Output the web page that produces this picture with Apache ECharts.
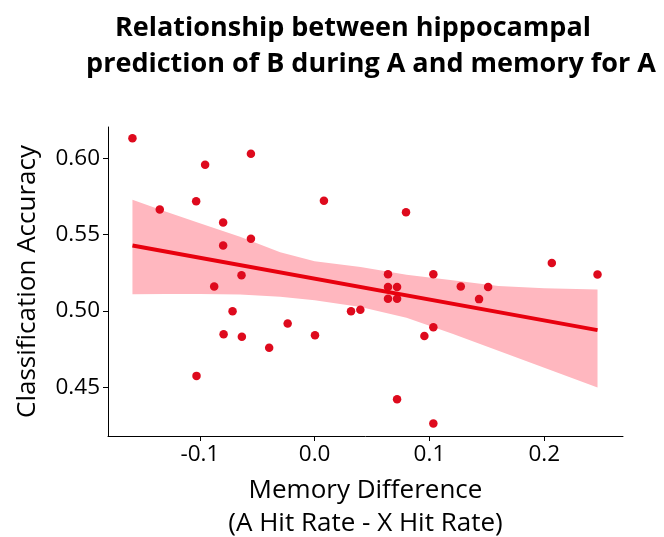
<!DOCTYPE html>
<html>
<head>
<meta charset="utf-8">
<script src="https://cdn.jsdelivr.net/npm/echarts@6/dist/echarts.min.js"></script>
<style>html,body{margin:0;padding:0;background:#fff;}#c{width:664px;height:537px;}</style>
</head>
<body>
<div id="c"></div>
<script>
const memDiff = [-0.1587,-0.0555,-0.0954,-0.1349,-0.1032,0.0081,-0.0797,-0.0555,-0.0797,-0.0637,-0.0875,-0.0715,0.0317,0.0398,0.0796,0.0639,0.1034,0.0639,0.0718,0.0639,0.0718,0.1273,0.1511,0.1432,0.2066,0.2464,-0.1029,-0.0793,-0.0634,-0.0396,-0.0235,0.0003,0.1034,0.0956,0.0718,0.1034];
const accuracy = [0.6132,0.6029,0.5957,0.5664,0.5719,0.5721,0.5579,0.5472,0.5429,0.5234,0.5160,0.4998,0.4998,0.5007,0.5647,0.5240,0.5240,0.5157,0.5157,0.5079,0.5079,0.5160,0.5157,0.5077,0.5313,0.5239,0.4574,0.4847,0.4830,0.4758,0.4917,0.4841,0.4893,0.4836,0.4421,0.4262];
const fitX = [-0.1587, 0.2464];
const fitY = [0.5428, 0.4874];
const bandX = [-0.1587,-0.13,-0.1,-0.065,-0.03,0.0,0.04,0.08,0.12,0.16,0.2,0.2464];
const bandUpper = [0.5728,0.5652,0.5575,0.5485,0.5385,0.5325,0.5288,0.5237,0.5200,0.5163,0.5148,0.5140];
const bandLower = [0.5109,0.5110,0.5110,0.5108,0.5092,0.5070,0.5025,0.4955,0.4850,0.4738,0.4628,0.4498];
const xTicks = [-0.1, 0.0, 0.1, 0.2];
const yTicks = [0.45, 0.50, 0.55, 0.60];
const titleLine1 = 'Relationship between hippocampal';
const titleLine2 = 'prediction of B during A and memory for A';
const xName = 'Memory Difference\n(A Hit Rate - X Hit Rate)';
const yName = 'Classification Accuracy';

const FONT = 'Open Sans';
const chart = echarts.init(document.getElementById('c'), null, {renderer: 'canvas'});
const scatterData = memDiff.map((x, i) => [x, accuracy[i]]);
const lineData = fitX.map((x, i) => [x, fitY[i]]);

chart.setOption({
  backgroundColor: '#ffffff',
  animation: false,
  title: [
    {text: titleLine1, left: 348, top: 10, textAlign: 'center',
     textStyle: {fontFamily: FONT, fontWeight: 'bold', fontSize: 27, color: '#000'}},
    {text: titleLine2, left: 366, top: 46, textAlign: 'center',
     textStyle: {fontFamily: FONT, fontWeight: 'bold', fontSize: 27, color: '#000'}}
  ],
  grid: {left: 108, right: 41, top: 127, bottom: 101, containLabel: false, outerBoundsMode: 'none'},
  xAxis: {
    type: 'value', min: -0.18, max: 0.2686,
    name: xName, nameLocation: 'middle', nameGap: 38,
    nameTextStyle: {fontFamily: FONT, fontSize: 26, color: '#000', lineHeight: 33},
    axisLine: {show: true, onZero: false, lineStyle: {color: '#000', width: 1}},
    axisTick: {show: true, length: 5, lineStyle: {color: '#000'}, customValues: xTicks},
    axisLabel: {fontFamily: FONT, fontSize: 22.5, color: '#000', margin: 7, customValues: xTicks,
      formatter: v => v.toFixed(1)},
    splitLine: {show: false}
  },
  yAxis: {
    type: 'value', min: 0.418, max: 0.6205,
    name: yName, nameLocation: 'middle', nameGap: 67,
    nameTextStyle: {fontFamily: FONT, fontSize: 26, color: '#000'},
    axisLine: {show: true, onZero: false, lineStyle: {color: '#000', width: 1}},
    axisTick: {show: true, length: 5, lineStyle: {color: '#000'}, customValues: yTicks},
    axisLabel: {fontFamily: FONT, fontSize: 22.5, color: '#000', margin: 8, customValues: yTicks,
      formatter: v => v.toFixed(2)},
    splitLine: {show: false}
  },
  series: [
    {
      type: 'custom', z: 1, silent: true,
      data: [[0, 0]],
      renderItem: function (params, api) {
        const pts = [];
        for (let i = 0; i < bandX.length; i++) pts.push(api.coord([bandX[i], bandUpper[i]]));
        for (let i = bandX.length - 1; i >= 0; i--) pts.push(api.coord([bandX[i], bandLower[i]]));
        return {type: 'polygon', shape: {points: pts, smooth: 0}, style: {fill: '#ffb7bf'}};
      }
    },
    {
      type: 'scatter', z: 3, data: scatterData, symbol: 'circle', symbolSize: 8.5,
      itemStyle: {color: '#de0a1d', opacity: 1}
    },
    {
      type: 'line', z: 4, data: lineData, showSymbol: false, symbol: 'none',
      lineStyle: {color: '#e8000e', width: 4, cap: 'butt'}
    }
  ]
});
</script>
</body>
</html>
